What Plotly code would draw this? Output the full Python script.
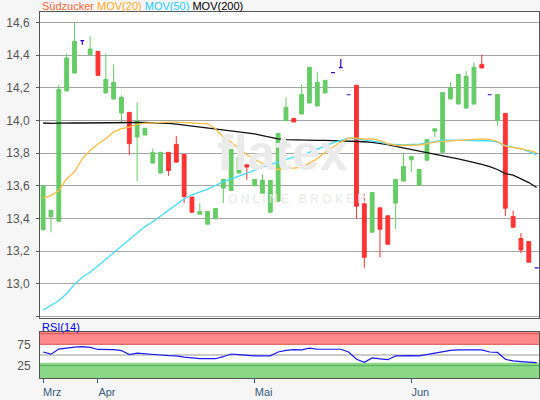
import plotly.graph_objects as go

# ---------------- data ----------------
day_idx = list(range(64))
month_tick_idx = [0, 7, 27, 47]
month_labels = ["Mrz", "Apr", "Mai", "Jun"]

open_ = [13.33, 13.41, 13.383, 14.181, 14.291, 14.49, 14.404, 14.424, 14.169, 14.132,
         14.046, 14.05, 13.899, 13.911, 13.739, 13.678, 13.805, 13.854, 13.792, 13.531,
         13.426, 13.365, 13.398, 13.586, 13.571, 13.678, 13.729, 13.60, 13.555, 13.438,
         13.506, 13.999, 14.013, 14.04, 14.107, 14.089, 14.169, 14.293, 14.324, 14.158,
         14.216, 13.49, 13.316, 13.465, 13.416, 13.494, 13.629, 13.76, 13.604, 13.757,
         13.935, 13.805, 14.132, 14.101, 14.076, 14.101, 14.344, 14.158, 13.999, 14.044,
         13.412, 13.277, 13.258, 13.097]
high_ = [13.60, 13.45, 14.22, 14.41, 14.60, 14.49, 14.516, 14.424, 14.41, 14.344,
         14.154, 14.05, 14.109, 13.952, 13.829, 13.805, 13.805, 13.905, 13.792, 13.531,
         13.494, 13.443, 13.461, 13.639, 13.823, 13.774, 13.729, 13.639, 13.67, 13.633,
         13.921, 14.142, 14.013, 14.222, 14.326, 14.295, 14.246, 14.293, 14.377, 14.158,
         14.216, 13.551, 13.559, 13.465, 13.416, 13.639, 13.80, 13.78, 13.70, 13.884,
         13.95, 14.171, 14.234, 14.283, 14.303, 14.357, 14.404, 14.158, 14.16, 14.044,
         13.449, 13.31, 13.258, 13.097]
low_ = [13.33, 13.316, 13.383, 14.181, 14.291, 14.465, 14.404, 14.277, 14.169, 14.132,
        13.99, 13.788, 13.629, 13.911, 13.739, 13.678, 13.661, 13.745, 13.494, 13.438,
        13.426, 13.365, 13.398, 13.494, 13.571, 13.678, 13.637, 13.60, 13.555, 13.438,
        13.506, 13.999, 13.991, 14.04, 14.107, 14.089, 14.169, 14.293, 14.324, 14.158,
        13.398, 13.097, 13.316, 13.162, 13.242, 13.336, 13.629, 13.684, 13.604, 13.757,
        13.899, 13.805, 14.132, 14.101, 14.076, 14.101, 14.322, 14.158, 13.968, 13.414,
        13.346, 13.187, 13.132, 13.097]
close_ = [13.60, 13.45, 14.191, 14.383, 14.485, 14.49, 14.438, 14.277, 14.252, 14.234,
          14.142, 13.858, 13.997, 13.952, 13.805, 13.805, 13.694, 13.745, 13.535, 13.438,
          13.443, 13.443, 13.461, 13.639, 13.823, 13.774, 13.715, 13.639, 13.633, 13.633,
          13.921, 14.081, 13.991, 14.16, 14.326, 14.234, 14.246, 14.293, 14.324, 14.158,
          13.475, 13.162, 13.559, 13.334, 13.242, 13.639, 13.719, 13.78, 13.70, 13.884,
          13.95, 14.171, 14.201, 14.283, 14.271, 14.326, 14.322, 14.158, 14.16, 13.463,
          13.346, 13.207, 13.132, 13.097]

mov20 = [13.526, 13.54, 13.571, 13.643, 13.684, 13.766, 13.817, 13.858, 13.888, 13.929,
         13.95, 13.96, 13.976, 13.984, 13.986, 13.99, 13.99, 13.99, 13.988, 13.986,
         13.984, 13.98, 13.95, 13.898, 13.868, 13.831, 13.79, 13.761, 13.735, 13.714,
         13.70, 13.708, 13.708, 13.714, 13.739, 13.766, 13.806, 13.837, 13.868, 13.892,
         13.892, 13.886, 13.888, 13.878, 13.858, 13.847, 13.847, 13.847, 13.85, 13.858,
         13.868, 13.872, 13.876, 13.88, 13.884, 13.888, 13.888, 13.884, 13.872, 13.843,
         13.837, 13.827, 13.817, 13.802]
mov50 = [12.839, 12.866, 12.896, 12.94, 12.996, 13.04, 13.07, 13.11, 13.15, 13.19,
         13.23, 13.27, 13.31, 13.35, 13.38, 13.415, 13.45, 13.48, 13.52, 13.545,
         13.561, 13.58, 13.602, 13.626, 13.643, 13.659, 13.674, 13.694, 13.714, 13.729,
         13.745, 13.757, 13.776, 13.786, 13.806, 13.827, 13.847, 13.863, 13.878, 13.892,
         13.888, 13.88, 13.876, 13.868, 13.855, 13.851, 13.851, 13.853, 13.855, 13.863,
         13.872, 13.88, 13.88, 13.878, 13.876, 13.876, 13.876, 13.876, 13.868, 13.847,
         13.839, 13.827, 13.81, 13.79]
mov200 = [13.985, 13.982, 13.984, 13.986, 13.985, 13.985, 13.986, 13.987, 13.987, 13.988,
          13.988, 13.988, 13.988, 13.988, 13.987, 13.985, 13.982, 13.978, 13.972, 13.966,
          13.96, 13.955, 13.95, 13.943, 13.936, 13.93, 13.924, 13.918, 13.908, 13.897,
          13.888, 13.883, 13.881, 13.88, 13.879, 13.879, 13.878, 13.877, 13.876, 13.875,
          13.873, 13.87, 13.866, 13.86, 13.852, 13.842, 13.832, 13.822, 13.812, 13.80,
          13.79, 13.781, 13.774, 13.765, 13.755, 13.745, 13.732, 13.718, 13.70, 13.675,
          13.665, 13.643, 13.62, 13.59]
rsi14 = [57, 52, 64, 67, 68.5, 69.5, 68, 63, 63, 62.7,
         60.5, 51, 54.5, 52.5, 51.5, 50, 48.5, 48, 45, 42.5,
         41.3, 41.3, 41.3, 46, 52.3, 51, 49, 48, 48, 48,
         57, 61, 62.5, 62, 66, 63.5, 63.5, 63.5, 63.5, 57,
         40, 33, 43, 41, 39, 48, 49, 48.5, 48, 51.5,
         54, 58.5, 61, 62, 62, 62, 62, 57, 56, 40,
         36, 34.5, 34, 32]

price_ticks = [12.8, 13.0, 13.2, 13.4, 13.6, 13.8, 14.0, 14.2, 14.4, 14.6]
price_tick_text = ["", "13,0", "13,2", "13,4", "13,6", "13,8", "14,0", "14,2", "14,4", "14,6"]
rsi_ticks = [25, 75]
rsi_tick_text = ["25", "75"]

# ---------------- styles ----------------
GREEN = "#66cc66"
RED = "#ff3333"
PURPLE = "#3300cc"
FONT = "Liberation Sans, Arial, sans-serif"

body = [i for i in day_idx if open_[i] != close_[i]]
doji = [i for i in day_idx if open_[i] == close_[i]]

fig = go.Figure()
fig.add_trace(go.Candlestick(
    x=[day_idx[i] for i in body],
    open=[open_[i] for i in body], high=[high_[i] for i in body],
    low=[low_[i] for i in body], close=[close_[i] for i in body],
    increasing=dict(line=dict(color=GREEN, width=1), fillcolor=GREEN),
    decreasing=dict(line=dict(color=RED, width=1), fillcolor=RED),
    whiskerwidth=0, showlegend=False, hoverinfo="skip", xaxis="x", yaxis="y"))
fig.add_trace(go.Candlestick(
    x=[day_idx[i] for i in doji],
    open=[open_[i] for i in doji], high=[high_[i] for i in doji],
    low=[low_[i] for i in doji], close=[close_[i] for i in doji],
    increasing=dict(line=dict(color=PURPLE, width=1.2), fillcolor=PURPLE),
    decreasing=dict(line=dict(color=PURPLE, width=1.2), fillcolor=PURPLE),
    whiskerwidth=0, showlegend=False, hoverinfo="skip", xaxis="x", yaxis="y"))

fig.add_trace(go.Scatter(x=day_idx, y=mov200, mode="lines", line=dict(color="#111111", width=1.3),
                         showlegend=False, hoverinfo="skip"))
fig.add_trace(go.Scatter(x=day_idx, y=mov50, mode="lines", line=dict(color="#44ddff", width=1.3),
                         showlegend=False, hoverinfo="skip"))
fig.add_trace(go.Scatter(x=day_idx, y=mov20, mode="lines", line=dict(color="#ffbb44", width=1.3),
                         showlegend=False, hoverinfo="skip"))
fig.add_trace(go.Scatter(x=day_idx, y=rsi14, mode="lines", line=dict(color="#1a1aee", width=1.2),
                         showlegend=False, hoverinfo="skip", xaxis="x2", yaxis="y2"))

shapes = [
    dict(type="rect", xref="x2 domain", x0=0, x1=1, yref="y2", y0=75, y1=104,
         fillcolor="#ff8888", line=dict(width=0), layer="below"),
    dict(type="rect", xref="x2 domain", x0=0, x1=1, yref="y2", y0=-4, y1=32,
         fillcolor="#88d888", line=dict(width=0), layer="below"),
    dict(type="line", xref="x2 domain", x0=0, x1=1, yref="y2", y0=100, y1=100,
         line=dict(color="#dd5555", width=1), layer="below"),
    dict(type="line", xref="x2 domain", x0=0, x1=1, yref="y2", y0=75, y1=75,
         line=dict(color="#dd5555", width=1), layer="below"),
    dict(type="line", xref="x2 domain", x0=0, x1=1, yref="y2", y0=50, y1=50,
         line=dict(color="#999999", width=1), layer="below"),
    dict(type="line", xref="x2 domain", x0=0, x1=1, yref="y2", y0=25, y1=25,
         line=dict(color="#55aa55", width=1), layer="below"),
]

annotations = [
    dict(text='<span style="color:#ff6633">Südzucker</span> <span style="color:#ffaa22">MOV(20)</span> '
              '<span style="color:#22ccff">MOV(50)</span> <span style="color:#000000">MOV(200)</span>',
         xref="paper", yref="paper", x=0, y=1 + 6 / 366, xanchor="left", yanchor="middle",
         showarrow=False, font=dict(size=11, family=FONT)),
    dict(text="RSI(14)", xref="paper", yref="paper", x=0, y=(378 - 327) / 366,
         xanchor="left", yanchor="middle", showarrow=False,
         font=dict(size=11, family=FONT, color="#0000ff")),
    dict(text="<b>flatex</b>", xref="x", yref="y", x=30.5, y=13.8, showarrow=False,
         font=dict(size=50, family=FONT, color="#ebebeb")),
    dict(text="O N L I N E   B R O K E R", xref="x", yref="y", x=32.5, y=13.52, showarrow=False,
         font=dict(size=12, family=FONT, color="#e8e8e8")),
]

fig.update_layout(
    width=540, height=400,
    margin=dict(l=40, r=1, t=12, b=22),
    paper_bgcolor="#f6f6f6", plot_bgcolor="#ffffff",
    separators=",.",
    font=dict(family=FONT, size=12, color="#555555"),
    showlegend=False,
    shapes=shapes, annotations=annotations,
    xaxis=dict(domain=[0, 1], anchor="y", range=[-0.4, 63.3], showticklabels=False,
               showgrid=False, zeroline=False, showline=True, linecolor="#555555", mirror=True,
               ticks="", rangeslider=dict(visible=False)),
    yaxis=dict(domain=[60 / 366, 1], anchor="x", range=[12.79, 14.665],
               tickvals=price_ticks, ticktext=price_tick_text,
               showgrid=True, gridcolor="#a5a5a5", gridwidth=1, zeroline=False,
               ticks="outside", ticklen=3, tickcolor="#555555", ticklabelstandoff=4,
               showline=True, linecolor="#555555", mirror=True,
               tickfont=dict(size=12, color="#555555")),
    xaxis2=dict(domain=[0, 1], anchor="y2", matches="x", range=[-0.4, 63.3],
                tickvals=month_tick_idx, ticktext=month_labels,
                ticks="outside", ticklen=4, tickcolor="#3a5a7a", ticklabelshift=9,
                showgrid=False, zeroline=False, showline=True, linecolor="#555555", mirror=True,
                tickfont=dict(size=11, color="#3a5a7a"), rangeslider=dict(visible=False)),
    yaxis2=dict(domain=[0, 46 / 366], anchor="x2", range=[-4, 104],
                tickvals=rsi_ticks, ticktext=rsi_tick_text, showgrid=False, zeroline=False,
                ticks="", ticklabelstandoff=6,
                showline=True, linecolor="#555555", mirror=True,
                tickfont=dict(size=12, color="#555555")),
)

fig.write_html("out.html", config={"displayModeBar": False},
               post_script="document.body.style.margin='0px';")
